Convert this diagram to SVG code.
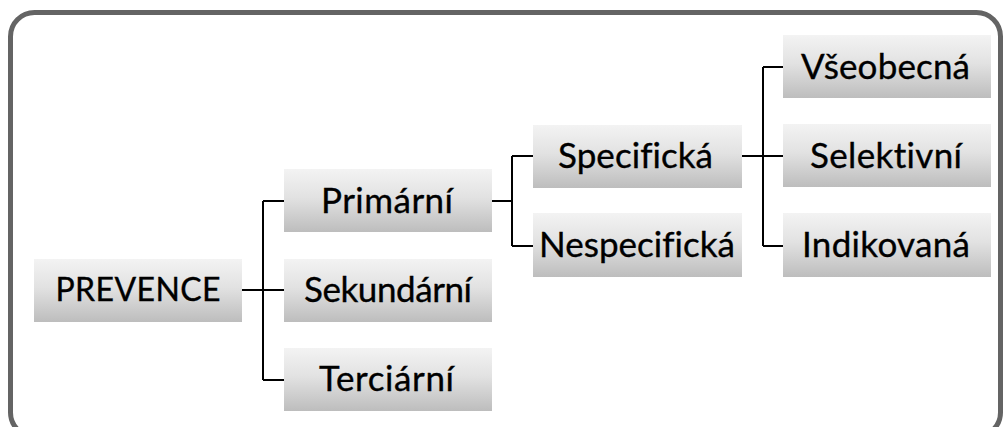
<svg xmlns="http://www.w3.org/2000/svg" width="1006" height="427" viewBox="0 0 1006 427">
  <defs>
    <linearGradient id="boxFill" x1="0" y1="0" x2="0" y2="1">
      <stop offset="0" stop-color="#f3f3f3"/>
      <stop offset="0.45" stop-color="#e2e2e2"/>
      <stop offset="1" stop-color="#bdbdbd"/>
    </linearGradient>
  </defs>
  <style>
    .box { fill: url(#boxFill); }
    .label { font-family: Lato, "Open Sans", sans-serif; font-size: 35px; fill: #000; stroke: #000; stroke-width: 0.35; text-anchor: middle; font-variant-ligatures: none; }
    .caps { font-size: 32px; }
    .link { fill: none; stroke: #000; stroke-width: 2; }
  </style>

  <!-- outer frame -->
  <rect x="10.5" y="12.5" width="990" height="424" rx="24" ry="24" fill="#fff" stroke="#646464" stroke-width="5"/>

  <!-- connectors -->
  <g id="connectors">
    <path class="link" d="M242 290 H284 M263 201 V380 M263 201 H284 M263 380 H284"/>
    <path class="link" d="M492 201 H512 M512 156 V246 M512 156 H533 M512 246 H533"/>
    <path class="link" d="M742 156 H783 M763 67 V246 M763 67 H783 M763 246 H783"/>
  </g>

  <g id="prevence">
    <rect class="box" x="34" y="259" width="208" height="63"/>
    <text class="label caps" x="138" y="301" textLength="165">PREVENCE</text>
  </g>
  <g id="primarni">
    <rect class="box" x="284" y="169" width="208" height="63"/>
    <text class="label" x="387" y="213" textLength="132">Primární</text>
  </g>
  <g id="sekundarni">
    <rect class="box" x="284" y="259" width="208" height="63"/>
    <text class="label" x="388" y="302" textLength="168">Sekundární</text>
  </g>
  <g id="terciarni">
    <rect class="box" x="284" y="348" width="208" height="63"/>
    <text class="label" x="386.5" y="391" textLength="135">Terciární</text>
  </g>
  <g id="specificka">
    <rect class="box" x="533" y="125" width="209" height="63"/>
    <text class="label" x="635.5" y="168" textLength="155">Specifická</text>
  </g>
  <g id="nespecificka">
    <rect class="box" x="533" y="213" width="209" height="64"/>
    <text class="label" x="637" y="257" textLength="196">Nespecifická</text>
  </g>
  <g id="vseobecna">
    <rect class="box" x="783" y="35" width="208" height="63"/>
    <text class="label" x="885.5" y="79" textLength="169">Všeobecná</text>
  </g>
  <g id="selektivni">
    <rect class="box" x="783" y="124" width="208" height="63"/>
    <text class="label" x="886" y="168" textLength="152">Selektivní</text>
  </g>
  <g id="indikovana">
    <rect class="box" x="783" y="213" width="208" height="64"/>
    <text class="label" x="886" y="257" textLength="168">Indikovaná</text>
  </g>
</svg>
